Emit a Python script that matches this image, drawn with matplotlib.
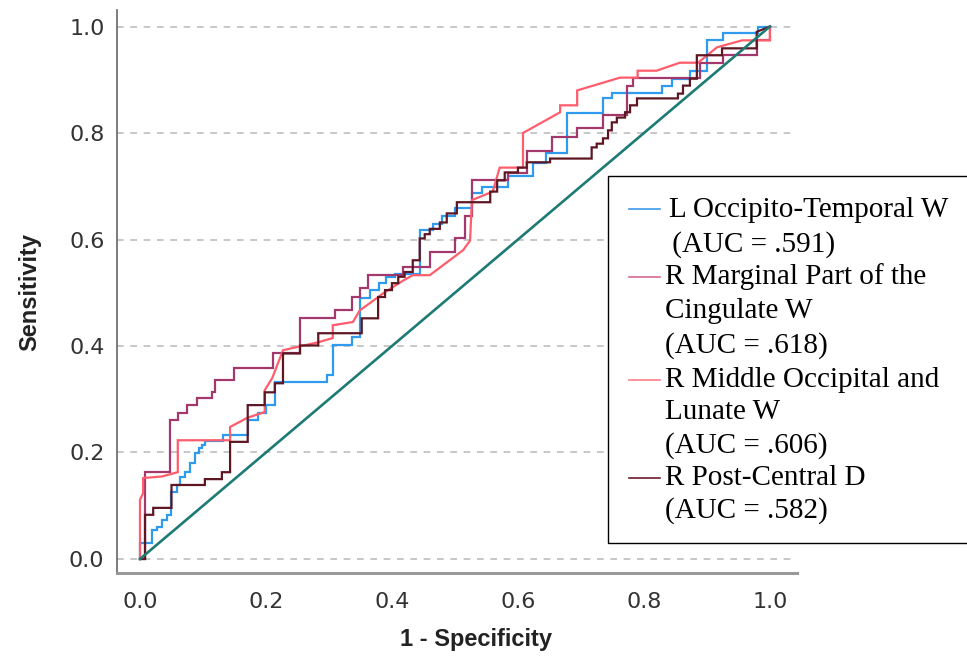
import matplotlib
matplotlib.use('Agg')
import matplotlib.pyplot as plt
from matplotlib.patches import Rectangle
from matplotlib.lines import Line2D

# ROC curve vertices (1 - specificity, sensitivity)
occ_temp_fpr = [0, 0, .019, .019, .027, .027, .035, .035, .043, .043, .05, .05, .058, .058, .063, .063,
                .071, .071, .08, .08, .087, .087, .093, .093, .098, .098, .103, .103, .132, .132, .171, .171,
                .187, .187, .2, .2, .214, .214, .297, .297, .306, .306, .336, .336, .349, .349, .365, .365,
                .38, .38, .39, .39, .405, .405, .444, .444, .465, .465, .48, .48, .5, .5, .527, .527,
                .543, .543, .584, .584, .624, .624, .645, .645, .678, .678, .735, .735, .749, .749, .829, .829,
                .844, .844, .873, .873, .9, .9, .925, .925, .981, .981, 1]
occ_temp_tpr = [0, .03, .03, .054, .054, .06, .06, .073, .073, .083, .083, .126, .126, .139, .139, .154,
                .154, .163, .163, .18, .18, .199, .199, .208, .208, .214, .214, .221, .221, .233, .233, .261,
                .261, .274, .274, .289, .289, .332, .332, .345, .345, .401, .401, .417, .417, .49, .49, .505,
                .505, .518, .518, .53, .53, .536, .536, .617, .617, .63, .63, .645, .645, .66, .66, .687,
                .687, .698, .698, .72, .72, .743, .743, .762, .762, .837, .837, .865, .865, .876, .876, .889,
                .889, .902, .902, .917, .917, .974, .974, .988, .988, 1, 1]

marginal_fpr = [0, .008, .008, .048, .048, .061, .061, .074, .074, .09, .09, .114, .114, .119, .119, .15,
                .15, .211, .211, .254, .254, .31, .31, .336, .336, .349, .349, .362, .362, .418, .418, .46,
                .46, .5, .5, .516, .516, .527, .527, .584, .584, .614, .614, .654, .654, .694, .694, .735,
                .735, .773, .773, .783, .783, .889, .889, .925, .925, .979, .979, 1, 1]
marginal_tpr = [0, 0, .163, .163, .261, .261, .274, .274, .289, .289, .302, .302, .313, .313, .336, .336,
                .358, .358, .386, .386, .452, .452, .467, .467, .492, .492, .508, .508, .533, .533, .548, .548,
                .576, .576, .602, .602, .645, .645, .711, .711, .724, .724, .767, .767, .792, .792, .809, .809,
                .833, .833, .889, .889, .904, .904, .932, .932, .946, .946, .975, .975, 1]

mid_occ_fpr = [0, 0, .005, .005, .035, .06, .06, .143, .143, .17, .198, .198, .21, .227, .249, .283,
               .306, .306, .338, .349, .376, .386, .418, .433, .46, .513, .524, .527, .56, .571, .608, .608,
               .667, .667, .694, .694, .762, .79, .79, .82, .857, .886, .916, .956, .979, 1, 1]
mid_occ_tpr = [0, .111, .124, .152, .155, .163, .223, .223, .248, .265, .276, .317, .34, .392, .398, .407,
               .415, .439, .445, .467, .49, .499, .523, .533, .533, .58, .598, .674, .69, .735, .735, .8,
               .839, .852, .852, .88, .904, .904, .917, .917, .932, .932, .961, .974, .974, .974, 1]

post_central_fpr = [0, .008, .008, .021, .021, .05, .05, .103, .103, .13, .13, .143, .143, .171, .171, .198,
                    .198, .214, .214, .227, .227, .254, .254, .283, .283, .352, .352, .378, .378, .389, .389, .4,
                    .4, .41, .41, .42, .42, .433, .433, .444, .444, .452, .452, .46, .46, .476, .476, .487,
                    .487, .503, .503, .556, .556, .567, .567, .579, .579, .6, .6, .614, .614, .651, .651, .717,
                    .717, .725, .725, .735, .735, .743, .743, .749, .749, .757, .757, .77, .77, .778, .778, .789,
                    .789, .854, .854, .862, .862, .873, .873, .884, .884, .924, .924, .979, .979, 1]
post_central_tpr = [0, 0, .083, .083, .096, .096, .139, .139, .15, .15, .163, .163, .22, .22, .289, .289,
                    .313, .313, .33, .33, .386, .386, .401, .401, .424, .424, .452, .452, .492, .492, .505, .505,
                    .518, .518, .53, .53, .539, .539, .561, .561, .602, .602, .61, .61, .62, .62, .632, .632,
                    .649, .649, .67, .67, .69, .69, .711, .711, .726, .726, .735, .735, .745, .745, .752, .752,
                    .773, .773, .78, .78, .79, .79, .805, .805, .82, .82, .829, .829, .839, .839, .852, .852,
                    .865, .865, .874, .874, .889, .889, .902, .902, .946, .946, .959, .959, .99, 1]

legend_lines = [
    ['L Occipito-Temporal W', ' (AUC = .591)'],
    ['R Marginal Part of the', 'Cingulate W', '(AUC = .618)'],
    ['R Middle Occipital and', 'Lunate W', '(AUC = .606)'],
    ['R Post-Central D', '(AUC = .582)'],
]
ticks = [0.0, 0.2, 0.4, 0.6, 0.8, 1.0]
tick_labels = ['0.0', '0.2', '0.4', '0.6', '0.8', '1.0']

curve_colors = ['#2e9bef', '#a3386c', '#ff5c6c', '#5e1622']
legend_colors = ['#3d9be9', '#d4698f', '#ff7f8a', '#6d1e2c']

W, H = 967, 658
fig = plt.figure(figsize=(W / 100, H / 100), dpi=100)
ax = fig.add_axes([117 / W, 85 / H, 680 / W, 563 / H])

curves = [(occ_temp_fpr, occ_temp_tpr), (marginal_fpr, marginal_tpr),
          (mid_occ_fpr, mid_occ_tpr), (post_central_fpr, post_central_tpr)]
for (x, y), c in zip(curves, curve_colors):
    ax.plot(x, y, color=c, lw=1.6, solid_joinstyle='miter', zorder=3)

# reference diagonal
ax.plot([0, 1], [0, 1], color='#1d7a74', lw=1.9, zorder=4)

ax.set_xlim(-0.0365, 1.043)
ax.set_ylim(-0.0263, 1.031)
ax.set_xticks(ticks)
ax.set_xticklabels(tick_labels)
ax.set_yticks(ticks)
ax.set_yticklabels(tick_labels)
ax.tick_params(length=0, labelsize=16, labelcolor='#333333')
ax.tick_params(axis='x', pad=14)
ax.tick_params(axis='y', pad=9)
ax.yaxis.grid(True, color='#bdbdbd', lw=1.2, linestyle=(0, (4, 4)))
ax.set_axisbelow(True)
for s in ['top', 'right']:
    ax.spines[s].set_visible(False)
ax.spines['left'].set_color('#666666')
ax.spines['bottom'].set_color('#999999')
ax.spines['left'].set_linewidth(1.2)
ax.spines['bottom'].set_linewidth(2.2)

ax.set_xlabel('1 - Specificity', fontsize=17, fontweight='bold', family='Liberation Sans', color='#222222')
ax.set_ylabel('Sensitivity', fontsize=17, fontweight='bold', family='Liberation Sans', color='#222222')
ax.xaxis.set_label_coords(0.528, -0.098)
ax.yaxis.set_label_coords(-0.112, 0.499)


def fx(px):
    return px / W


def fy(py):
    return 1 - py / H


# legend box drawn by hand so handles sit on the first line of each entry
box = Rectangle((fx(608), fy(543)), fx(980) - fx(608), fy(176) - fy(543),
                transform=fig.transFigure, facecolor='white', edgecolor='black', lw=1.0, zorder=10)
fig.add_artist(box)

baselines = [[217, 252], [284, 318, 353], [387, 419, 453], [485, 518]]
handle_y = [209, 277, 380, 478]
for lines, ys, hy, c in zip(legend_lines, baselines, handle_y, legend_colors):
    fig.add_artist(Line2D([fx(629), fx(660)], [fy(hy), fy(hy)], transform=fig.transFigure,
                          color=c, lw=1.2, zorder=11))
    for i, (txt, by) in enumerate(zip(lines, ys)):
        x0 = 669 if (c == legend_colors[0] and i == 0) else 665
        fig.text(fx(x0), fy(by), txt, fontsize=21, family='Liberation Serif',
                 va='baseline', ha='left', color='black', zorder=12)

fig.savefig('out.png', dpi=100)
